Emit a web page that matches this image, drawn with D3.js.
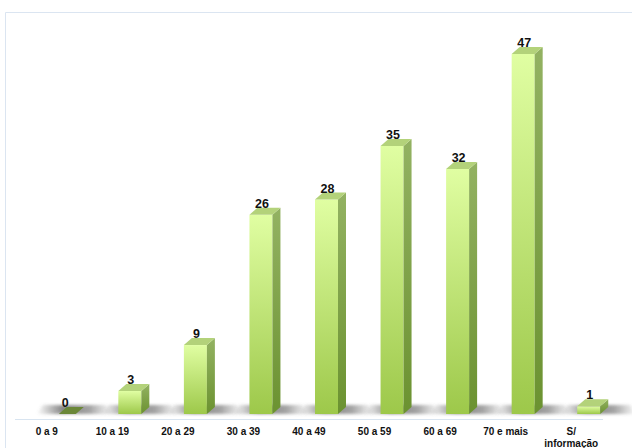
<!DOCTYPE html>
<html>
<head>
<meta charset="utf-8">
<script src="https://cdn.jsdelivr.net/npm/d3@7"></script>
<style>
  html, body { margin: 0; padding: 0; background: #fff; }
  svg { display: block; font-family: "Liberation Sans", Arial, sans-serif; }
</style>
</head>
<body>
<svg id="chart" width="632" height="448"></svg>
<script>
// Faixas etárias e contagens
const categories = ['0 a 9', '10 a 19', '20 a 29', '30 a 39', '40 a 49', '50 a 59', '60 a 69', '70 e mais', 'S/\ninformação'];
const values = [0, 3, 9, 26, 28, 35, 32, 47, 1];

const W = 632, H = 448;
const BASE_Y = 414;
const DX = 8, DY = -7;     // profundidade 3D
const BAR_W = 23;

const svg = d3.select('#chart');
const defs = svg.append('defs');

// gradientes
const front = defs.append('linearGradient').attr('id', 'gFront')
  .attr('x1', 0).attr('y1', 0).attr('x2', 0).attr('y2', 1);
front.append('stop').attr('offset', '0%').attr('stop-color', '#e0fea2');
front.append('stop').attr('offset', '100%').attr('stop-color', '#9dc84a');

const side = defs.append('linearGradient').attr('id', 'gSide')
  .attr('x1', 0).attr('y1', 0).attr('x2', 0).attr('y2', 1);
side.append('stop').attr('offset', '0%').attr('stop-color', '#93b262');
side.append('stop').attr('offset', '100%').attr('stop-color', '#6b9230');

const shadow = defs.append('linearGradient').attr('id', 'gShadow')
  .attr('x1', 0).attr('y1', 0).attr('x2', 1).attr('y2', 0);
shadow.append('stop').attr('offset', '0%').attr('stop-color', '#666').attr('stop-opacity', 0);
shadow.append('stop').attr('offset', '35%').attr('stop-color', '#666').attr('stop-opacity', 0.8);
shadow.append('stop').attr('offset', '70%').attr('stop-color', '#666').attr('stop-opacity', 0.6);
shadow.append('stop').attr('offset', '100%').attr('stop-color', '#666').attr('stop-opacity', 0);

defs.append('filter').attr('id', 'blur')
  .attr('x', '-20%').attr('y', '-50%').attr('width', '140%').attr('height', '200%')
  .append('feGaussianBlur').attr('stdDeviation', 1.5);

// moldura
svg.append('path')
  .attr('d', `M5.5,${H} V12.5 H${W}`)
  .attr('fill', 'none').attr('stroke', '#dbe5f1').attr('stroke-width', 1);

// escalas
const x = d3.scaleBand().domain(categories).range([14, 604]).padding(0);
const y = d3.scaleLinear().domain([0, 47]).range([BASE_Y, 54]);

// linha do chão
svg.append('line')
  .attr('x1', 15).attr('x2', 603).attr('y1', 419.5).attr('y2', 419.5)
  .attr('stroke', '#d8e4f0').attr('stroke-width', 1);

const bars = svg.append('g').selectAll('g')
  .data(categories.map((c, i) => ({ c: c, v: values[i] })))
  .join('g');

const fl = d => x(d.c) + x.bandwidth() / 2 + 6;

// sombra
bars.append('polygon')
  .attr('points', d => {
    const l = fl(d), r = l + BAR_W + DX;
    return [[l - 16, BASE_Y], [r + 28, BASE_Y], [r + 22, BASE_Y - 9], [l - 10, BASE_Y - 9]].join(' ');
  })
  .attr('fill', 'url(#gShadow)')
  .attr('filter', 'url(#blur)');

// face frontal
bars.filter(d => d.v > 0).append('rect')
  .attr('x', d => fl(d))
  .attr('y', d => y(d.v))
  .attr('width', BAR_W)
  .attr('height', d => BASE_Y - y(d.v))
  .attr('fill', 'url(#gFront)');

// lateral
bars.filter(d => d.v > 0).append('polygon')
  .attr('points', d => {
    const r = fl(d) + BAR_W, t = y(d.v);
    return [[r, t], [r + DX, t + DY], [r + DX, BASE_Y + DY], [r, BASE_Y]].join(' ');
  })
  .attr('fill', 'url(#gSide)');

// topo
bars.append('polygon')
  .attr('points', d => {
    const l = fl(d) + (d.v > 0 ? 0 : 6), t = y(d.v), w = d.v > 0 ? BAR_W : 17;
    return [[l, t], [l + w, t], [l + w + DX, t + DY], [l + DX, t + DY]].join(' ');
  })
  .attr('fill', d => d.v > 0 ? '#b3d27a' : '#6a8738');

// valores
bars.append('text')
  .attr('x', d => fl(d) + BAR_W / 2 + 1)
  .attr('y', d => y(d.v) - 7)
  .attr('text-anchor', 'middle')
  .attr('font-size', 12.5)
  .attr('font-weight', 'bold')
  .attr('fill', '#111')
  .text(d => d.v);

// rótulos do eixo
const labels = svg.append('g').selectAll('text')
  .data(categories)
  .join('text')
  .attr('x', d => x(d) + x.bandwidth() / 2)
  .attr('y', 435)
  .attr('text-anchor', 'middle')
  .attr('font-size', 10)
  .attr('font-weight', 'bold')
  .attr('fill', '#111');

labels.selectAll('tspan')
  .data(d => d.split('\n'))
  .join('tspan')
  .attr('x', function() { return d3.select(this.parentNode).attr('x'); })
  .attr('dy', (d, i) => i === 0 ? 0 : 12)
  .text(d => d);
</script>
</body>
</html>
